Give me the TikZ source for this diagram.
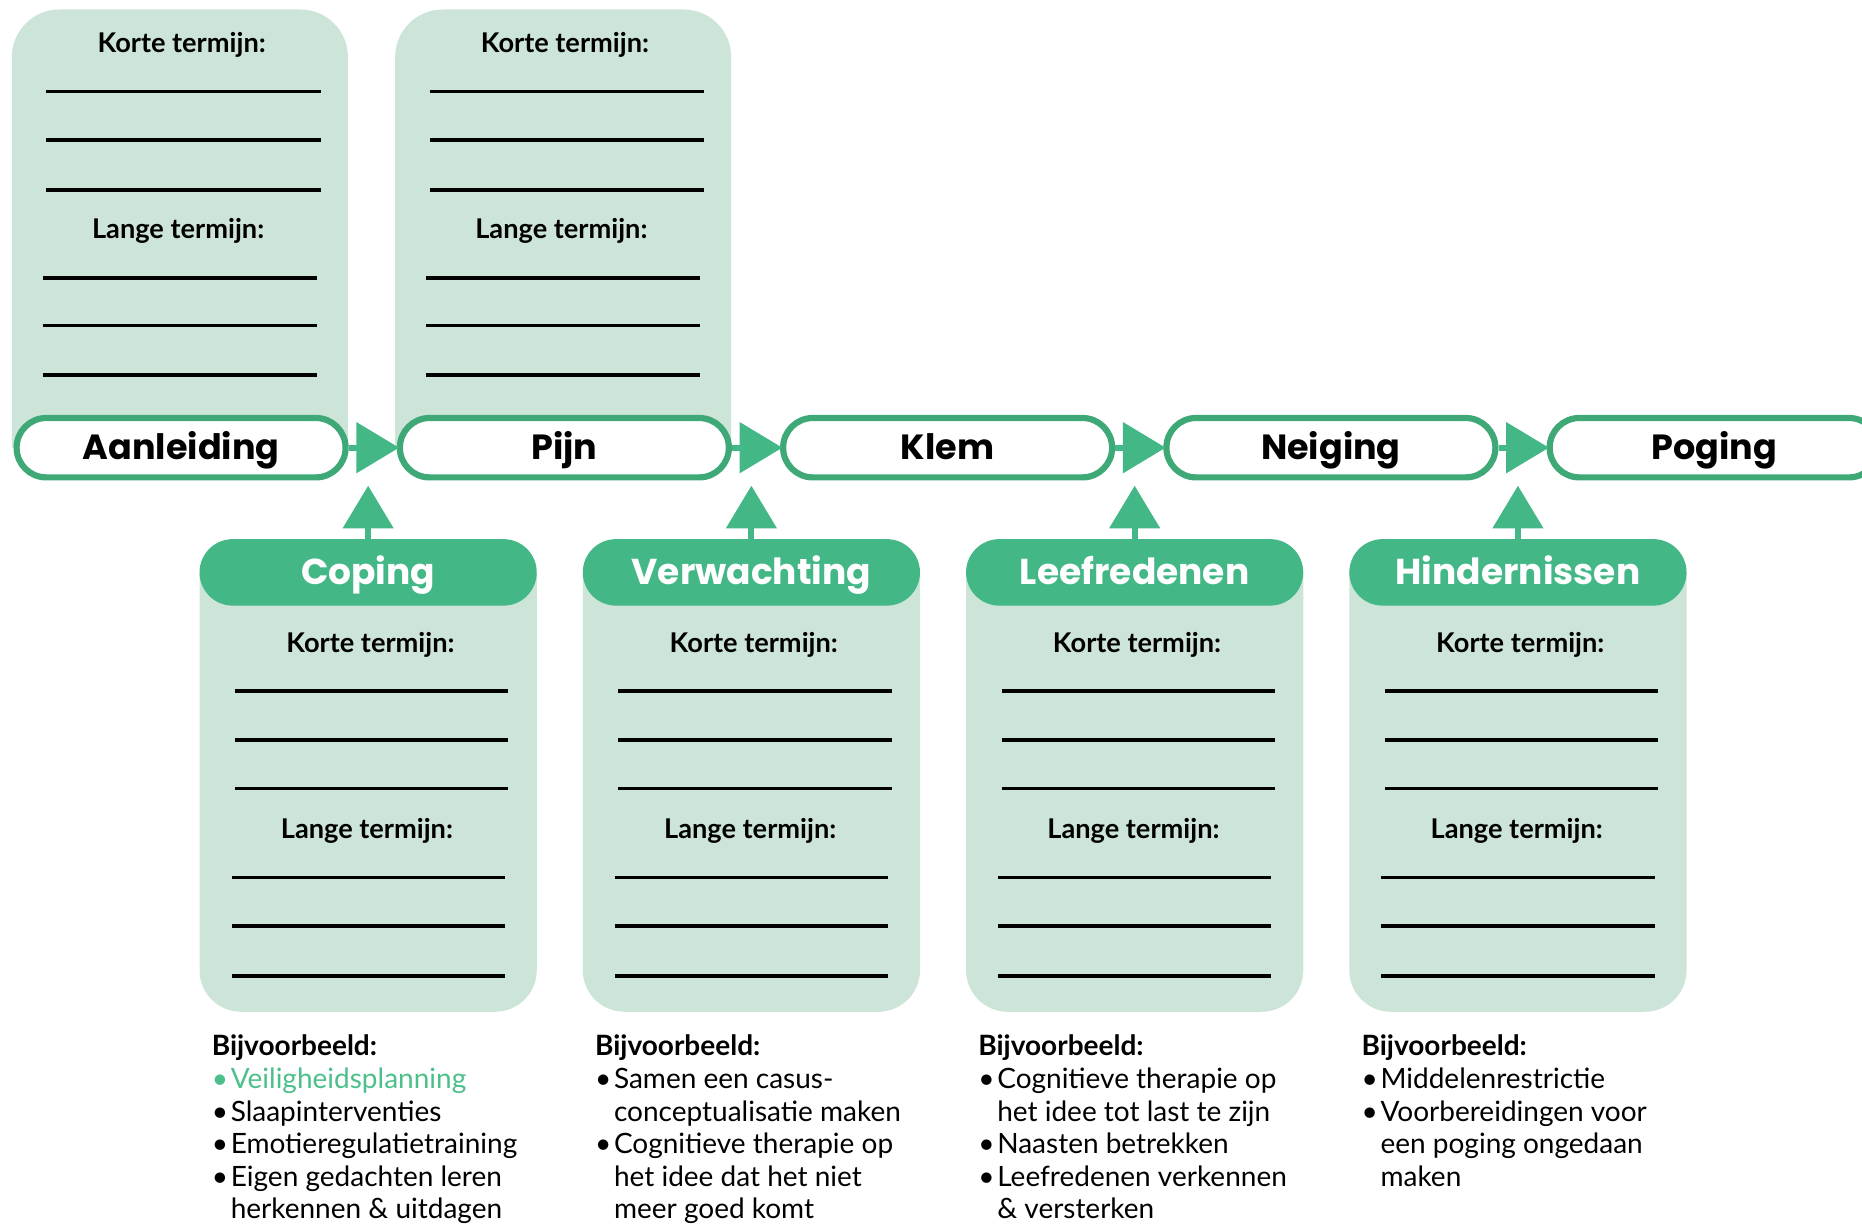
\documentclass[tikz,border=0pt]{standalone}
\usepackage{fontspec}
\setmainfont{Lato}
\newfontfamily\headfont{Poppins}
\usetikzlibrary{arrows.meta}
\definecolor{lightg}{HTML}{CDE5D8}
\definecolor{darkg}{HTML}{43B886}
\definecolor{strokeg}{HTML}{3EA877}
\definecolor{textg}{HTML}{4CBF8B}
\newcommand\bul{\makebox[9.5pt][l]{•}}
\begin{document}
\begin{tikzpicture}[x=0.59375pt,y=-0.59375pt,
  pill/.style={draw=strokeg, line width=3.1pt, fill=white, rounded corners=14.84pt,
    minimum width=164.5pt, minimum height=29.7pt, inner sep=0pt,
    font=\headfont\bfseries\fontsize{17.5}{20}\selectfont, text height=12.3pt, text depth=0pt},
  header/.style={fill=darkg, text=white, rounded corners=16.6pt, minimum width=168.6pt,
    minimum height=33.25pt, inner sep=0pt,
    font=\headfont\bfseries\fontsize{18}{20}\selectfont, text height=12.6pt, text depth=0pt},
  term/.style={inner sep=0pt, font=\bfseries\fontsize{13.6}{15}\selectfont, text height=9.8pt, text depth=0pt},
  wline/.style={line width=1.78pt, black},
  flow/.style={draw=darkg, line width=2.97pt, -{Triangle[length=21.4pt, width=24.9pt]}},
  ex/.style={anchor=base west, inner sep=0pt, font=\fontsize{14}{16.3}\selectfont}]
\useasboundingbox (0,0) rectangle (1568,1032);
% top boxes
\foreach \i/\nm in {0/a,1/b} {
  \pgfmathsetmacro\L{10+322.75*\i}
  \fill[lightg] (\L,377) -- (\L,48) arc[start angle=180,end angle=90,radius=23.75pt]
     -- ({\L+243},8) arc[start angle=90,end angle=0,radius=23.75pt] -- ({\L+283},377) -- cycle;
  \node[term] (kt\nm) at ({\L+143},36) {Korte termijn:};
  \node[term] (lt\nm) at ({\L+140},193) {Lange termijn:};
  \foreach \y in {77,118,160} \draw[wline] ({\L+29},\y) -- ({\L+260},\y);
  \foreach \y in {234,274,316} \draw[wline] ({\L+26},\y) -- ({\L+257},\y);
}
% pills
\foreach \i/\lb in {1/Aanleiding,2/Pijn,3/Klem,4/Neiging,5/Poging}
  \node[pill] (p\i) at ({152.5+322.75*(\i-1)},377) {\lb};
\foreach \i [evaluate=\i as \j using int(\i+1)] in {1,...,4}
  \draw[flow, shorten >=-1.2pt] (p\i.east) -- (p\j.west);
% bottom boxes
\foreach \i/\hd in {0/Coping,1/Verwachting,2/Leefredenen,3/Hindernissen} {
  \pgfmathsetmacro\L{168+322.75*\i}
  \fill[lightg] (\L,482) -- (\L,817) arc[start angle=180,end angle=270,radius=20.78pt]
     -- ({\L+249},852) arc[start angle=270,end angle=360,radius=20.78pt] -- ({\L+284},482) -- cycle;
  \node[header] (h\i) at ({\L+142},482) {\hd};
  \coordinate (t\i) at ({\L+142},409);
  \draw[flow] (h\i.north) -- (t\i);
  \node[term] (bk\i) at ({\L+144},541) {Korte termijn:};
  \node[term] (bl\i) at ({\L+141},698) {Lange termijn:};
  \foreach \y in {582,623,664} \draw[wline] ({\L+30},\y) -- ({\L+260},\y);
  \foreach \y in {739,780,822} \draw[wline] ({\L+27},\y) -- ({\L+257},\y);
}
% examples column 1
\node[ex] (e0a) at (178,889) {\bfseries Bijvoorbeeld:};
\node[ex, text=textg] (e0b) at (178,916.5) {\bul Veiligheidsplanning};
\node[ex] (e0c) at (178,944) {\bul Slaapinterventies};
\node[ex] (e0d) at (178,971.5) {\bul Emotieregulatietraining};
\node[ex] (e0e) at (178,999) {\bul Eigen gedachten leren};
\node[ex] (e0f) at (194,1026.5) {herkennen \& uitdagen};
% column 2
\node[ex] (e1a) at (500.75,889) {\bfseries Bijvoorbeeld:};
\node[ex] (e1b) at (500.75,916.5) {\bul Samen een casus-};
\node[ex] (e1c) at (516.75,944) {conceptualisatie maken};
\node[ex] (e1d) at (500.75,971.5) {\bul Cognitieve therapie op};
\node[ex] (e1e) at (516.75,999) {het idee dat het niet};
\node[ex] (e1f) at (516.75,1026.5) {meer goed komt};
% column 3
\node[ex] (e2a) at (823.5,889) {\bfseries Bijvoorbeeld:};
\node[ex] (e2b) at (823.5,916.5) {\bul Cognitieve therapie op};
\node[ex] (e2c) at (839.5,944) {het idee tot last te zijn};
\node[ex] (e2d) at (823.5,971.5) {\bul Naasten betrekken};
\node[ex] (e2e) at (823.5,999) {\bul Leefredenen verkennen};
\node[ex] (e2f) at (839.5,1026.5) {\& versterken};
% column 4
\node[ex] (e3a) at (1146.25,889) {\bfseries Bijvoorbeeld:};
\node[ex] (e3b) at (1146.25,916.5) {\bul Middelenrestrictie};
\node[ex] (e3c) at (1146.25,944) {\bul Voorbereidingen voor};
\node[ex] (e3d) at (1162.25,971.5) {een poging ongedaan};
\node[ex] (e3e) at (1162.25,999) {maken};
\end{tikzpicture}
\end{document}
